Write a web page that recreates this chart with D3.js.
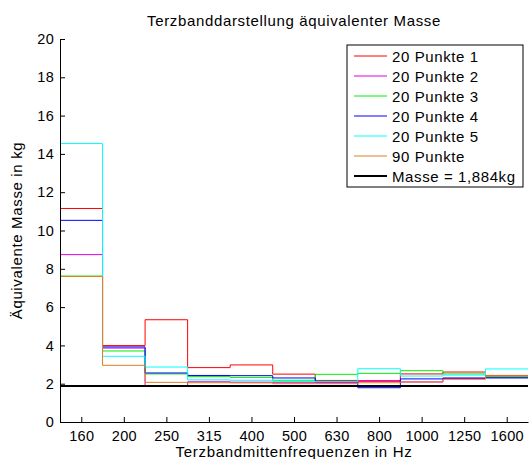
<!DOCTYPE html>
<html>
<head>
<meta charset="utf-8">
<script src="https://cdn.jsdelivr.net/npm/d3@7"></script>
<style>
  body { margin: 0; background: #fff; }
  text { font-family: "Liberation Sans", Arial, sans-serif; fill: #000; }
</style>
</head>
<body>
<svg width="529" height="459"></svg>
<script>
var svg = d3.select("svg"),
    width = +svg.attr("width"),
    height = +svg.attr("height");

// Terzbaender (Hz)
var bands = ["160", "200", "250", "315", "400", "500", "630", "800", "1000", "1250", "1600"];

// aequivalente Masse in kg je Terzband
var punkte1 = [11.15, 3.99, 5.34, 2.84, 2.98, 2.50, 2.17, 2.16, 2.51, 2.61, 2.43];
var punkte2 = [8.74, 3.86, 1.86, 2.10, 2.08, 2.05, 2.05, 2.12, 2.09, 2.27, 2.33];
var punkte3 = [7.62, 3.71, 2.51, 2.37, 2.33, 2.18, 2.49, 2.54, 2.68, 2.51, 2.37];
var punkte4 = [10.53, 3.92, 2.56, 2.43, 2.42, 2.30, 2.10, 1.79, 2.25, 2.30, 2.30];
var punkte5 = [14.54, 3.43, 2.87, 2.20, 2.18, 2.12, 2.12, 2.78, 2.40, 2.45, 2.77];
var punkte90 = [7.60, 2.96, 2.07, 2.05, 2.04, 2.00, 2.00, 2.05, 2.09, 2.23, 2.42];
var masse = 1.884;

var seriesNames = ["20 Punkte 1", "20 Punkte 2", "20 Punkte 3", "20 Punkte 4", "20 Punkte 5", "90 Punkte"];
var seriesValues = [punkte1, punkte2, punkte3, punkte4, punkte5, punkte90];
var seriesColors = ["#ff0000", "#dd00dd", "#00ee00", "#0000ff", "#00ffff", "#dd7f22"];

var yTicks = d3.range(0, 21, 2);

var margin = {left: 60, right: 1, top: 39, bottom: 37};

var x = d3.scaleLinear()
    .domain([0.5, bands.length + 0.5])
    .range([margin.left, width - margin.right]);

var y = d3.scaleLinear()
    .domain([0, 20])
    .range([height - margin.bottom, margin.top]);

// stairs: each band drawn from its left edge to the right edge
var stairs = d3.line()
    .x(function(d) { return x(d[0]); })
    .y(function(d) { return y(d[1]); })
    .curve(d3.curveStepAfter);

var plot = svg.append("g").attr("class", "plot");

seriesValues.forEach(function(vals, i) {
  var pts = vals.map(function(v, j) { return [j + 0.5, v]; });
  pts.push([vals.length + 0.5, vals[vals.length - 1]]);
  plot.append("path")
      .attr("d", stairs(pts))
      .attr("fill", "none")
      .attr("stroke", seriesColors[i])
      .attr("stroke-width", 1);
});

plot.append("line")
    .attr("x1", x(0.5)).attr("x2", x(bands.length + 0.5))
    .attr("y1", y(masse)).attr("y2", y(masse))
    .attr("stroke", "#000")
    .attr("stroke-width", 2);

// axes, MATLAB style: ticks inside
var xAxis = d3.axisBottom(x)
    .tickValues(d3.range(1, bands.length + 1))
    .tickFormat(function(d) { return bands[d - 1]; })
    .tickSizeInner(-5)
    .tickSizeOuter(0)
    .tickPadding(9);

var yAxis = d3.axisLeft(y)
    .tickValues(yTicks)
    .tickSizeInner(-5)
    .tickSizeOuter(0)
    .tickPadding(6);

var gx = svg.append("g")
    .attr("transform", "translate(0," + y(0) + ")")
    .call(xAxis);

var gy = svg.append("g")
    .attr("transform", "translate(" + x(0.5) + ",0)")
    .call(yAxis);

[gx, gy].forEach(function(g) {
  g.selectAll("text").style("font-size", "14.5px").style("letter-spacing", "0.3px").attr("fill", "#000");
  g.selectAll("line").attr("stroke", "#000");
  g.select(".domain").attr("stroke", "#000");
});

svg.append("text")
    .attr("x", (x.range()[0] + x.range()[1]) / 2)
    .attr("y", 26)
    .attr("text-anchor", "middle")
    .style("font-size", "15px")
    .style("letter-spacing", "0.65px")
    .text("Terzbanddarstellung äquivalenter Masse");

svg.append("text")
    .attr("x", (x.range()[0] + x.range()[1]) / 2)
    .attr("y", 457)
    .attr("text-anchor", "middle")
    .style("font-size", "15px")
    .style("letter-spacing", "0.7px")
    .text("Terzbandmittenfrequenzen in Hz");

svg.append("text")
    .attr("transform", "translate(22," + (y(0) + y(20)) / 2 + ") rotate(-90)")
    .attr("text-anchor", "middle")
    .style("font-size", "15px")
    .style("letter-spacing", "0.65px")
    .text("Äquivalente Masse in kg");

// legend
var legend = svg.append("g")
    .attr("class", "legend")
    .attr("transform", "translate(347,45)");

legend.append("rect")
    .attr("width", 176)
    .attr("height", 142)
    .attr("fill", "#fff")
    .attr("stroke", "#000")
    .attr("stroke-width", 1);

var legendNames = seriesNames.concat(["Masse = 1,884kg"]);
var legendColors = seriesColors.concat(["#000"]);

legendNames.forEach(function(name, i) {
  var row = legend.append("g").attr("transform", "translate(0," + (11 + i * 20) + ")");
  row.append("line")
      .attr("x1", 7).attr("x2", 40)
      .attr("stroke", legendColors[i])
      .attr("stroke-width", i == legendNames.length - 1 ? 2 : 1);
  row.append("text")
      .attr("x", 45)
      .attr("y", 5.5)
      .style("font-size", "15px")
      .style("letter-spacing", "0.6px")
      .text(name);
});
</script>
</body>
</html>
